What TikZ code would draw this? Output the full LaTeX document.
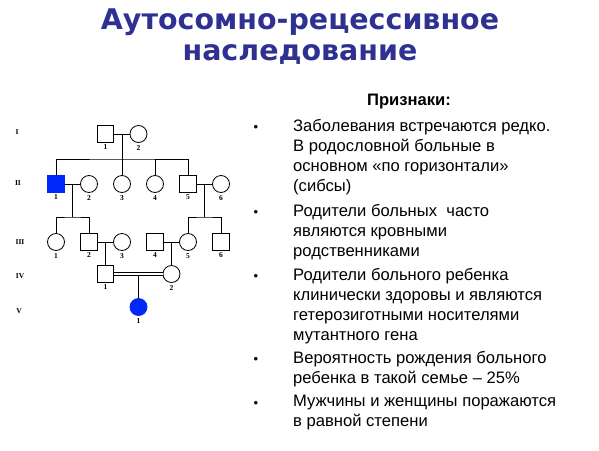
\documentclass[tikz,border=0pt]{standalone}
\usepackage{fontspec}
\setmainfont{Liberation Serif}
\setsansfont{Liberation Sans}
\newfontfamily\titlefont{DejaVu Sans}
\usetikzlibrary{positioning}

\definecolor{titleblue}{RGB}{46,49,146}
\definecolor{sick}{RGB}{0,40,250}

\begin{document}
\begin{tikzpicture}[x=1pt,y=-1pt,
  male/.style={draw,line width=0.8pt,minimum size=16.5pt,inner sep=0pt},
  female/.style={draw,circle,line width=0.8pt,minimum size=17pt,inner sep=0pt},
  ill/.style={fill=sick,draw=sick},
  num/.style={font=\fontsize{7.5}{7.5}\selectfont\bfseries,inner sep=0pt},
  gen/.style={font=\fontsize{7.5}{7.5}\selectfont\bfseries,inner sep=0pt},
  line/.style={line width=0.8pt},
  heading/.style={font=\titlefont\bfseries\fontsize{28.5}{30}\selectfont,text=titleblue,inner sep=0pt},
  txt/.style={font=\sffamily\fontsize{16.6}{20}\selectfont,align=left,inner sep=0pt,anchor=north west},
  dot/.style={font=\sffamily\fontsize{13}{13}\selectfont,inner sep=0pt}]
  \useasboundingbox (0,0) rectangle (599,450);

  % title
  \node[heading] (title1) at (300,22) {Аутосомно-рецессивное};
  \node[heading] (title2) at (300,54) {наследование};

  % generations
  \node[gen] (gI) at (17,132) {I};
  \node[gen] (gII) at (18,183) {II};
  \node[gen] (gIII) at (20,242) {III};
  \node[gen] (gIV) at (20,276) {IV};
  \node[gen] (gV) at (19,311) {V};

  % I
  \node[male,label={[num,yshift=-2pt]below:1}] (I1) at (105.5,134) {};
  \node[female,label={[num,yshift=-2pt]below:2}] (I2) at (138.5,134) {};
  \draw[line] (I1) -- (I2);
  \coordinate (mI) at (122,134);
  \coordinate (sII) at (122,159);

  % II
  \node[male,ill,label={[num,yshift=-2pt]below:1}] (II1) at (56,184) {};
  \node[female,label={[num,yshift=-2pt]below:2}] (II2) at (89,184) {};
  \node[female,label={[num,yshift=-2pt]below:3}] (II3) at (122,184) {};
  \node[female,label={[num,yshift=-2pt]below:4}] (II4) at (155,184) {};
  \node[male,label={[num,yshift=-2pt]below:5}] (II5) at (188,184) {};
  \node[female,label={[num,yshift=-2pt]below:6}] (II6) at (221,184) {};
  \draw[line] (mI) -- (II3);
  \draw[line] (II1.north) |- (sII) -| (II5.north);
  \draw[line] (II4.north) -- (II4 |- sII);
  \draw[line] (II1) -- (II2);
  \draw[line] (II5) -- (II6);
  \coordinate (mIIa) at (72.5,184);
  \coordinate (mIIb) at (204.5,184);
  \coordinate (sIIIa) at (72.5,217);
  \coordinate (sIIIb) at (204.5,217);

  % III
  \node[female,label={[num,yshift=-2pt]below:1}] (III1) at (56,242) {};
  \node[male,label={[num,yshift=-2pt]below:2}] (III2) at (89,242) {};
  \node[female,label={[num,yshift=-2pt]below:3}] (III3) at (122,242) {};
  \node[male,label={[num,yshift=-2pt]below:4}] (III4) at (155,242) {};
  \node[female,label={[num,yshift=-2pt]below:5}] (III5) at (188,242) {};
  \node[male,label={[num,yshift=-2pt]below:6}] (III6) at (221,242) {};
  \draw[line] (mIIa) -- (sIIIa);
  \draw[line] (III1.north) |- (sIIIa) -| (III2.north);
  \draw[line] (mIIb) -- (sIIIb);
  \draw[line] (III5.north) |- (sIIIb) -| (III6.north);
  \draw[line] (III2) -- (III3);
  \draw[line] (III4) -- (III5);
  \coordinate (mIIIa) at (105.5,242);
  \coordinate (mIIIb) at (171.5,242);

  % IV
  \node[male,label={[num,yshift=-2pt]below:1}] (IV1) at (105.5,274) {};
  \node[female,label={[num,yshift=-2pt]below:2}] (IV2) at (171.5,274) {};
  \draw[line] (mIIIa) -- (IV1);
  \draw[line] (mIIIb) -- (IV2);
  \draw[line,double,double distance=2.2pt] (IV1) -- (IV2);
  \coordinate (mIV) at (138.5,275.9);

  % V
  \node[female,ill,label={[num,yshift=-2pt]below:1}] (V1) at (138.5,307) {};
  \draw[line] (mIV) -- (V1);

  % signs
  \node[font=\sffamily\bfseries\fontsize{16.6}{20}\selectfont,inner sep=0pt] (head) at (409,102) {Признаки:};

  \node[dot] (d1) at (256,128) {•};
  \node[txt] (t1) at (293,119) {Заболевания встречаются редко.\\В родословной больные в\\основном «по горизонтали»\\(сибсы)};
  \node[dot] (d2) at (256,213) {•};
  \node[txt] (t2) at (293,204) {Родители больных\ \ часто\\являются кровными\\родственниками};
  \node[dot] (d3) at (256,277) {•};
  \node[txt] (t3) at (293,268) {Родители больного ребенка\\клинически здоровы и являются\\гетерозиготными носителями\\мутантного гена};
  \node[dot] (d4) at (256,360) {•};
  \node[txt] (t4) at (293,351) {Вероятность рождения больного\\ребенка в такой семье – 25\%};
  \node[dot] (d5) at (256,404) {•};
  \node[txt] (t5) at (293,395) {Мужчины и женщины поражаются\\в равной степени};
\end{tikzpicture}
\end{document}
